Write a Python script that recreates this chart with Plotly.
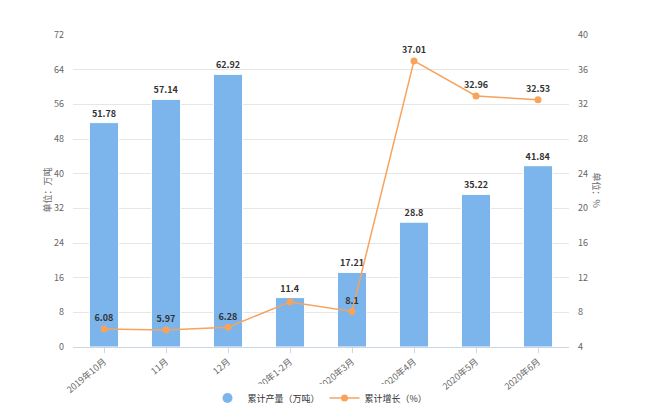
import plotly.graph_objects as go

categories = ["2019年10月", "11月", "12月", "2020年1-2月", "2020年3月", "2020年4月", "2020年5月", "2020年6月"]
output_vals = [51.78, 57.14, 62.92, 11.4, 17.21, 28.8, 35.22, 41.84]
growth_vals = [6.08, 5.97, 6.28, 9.2, 8.1, 37.01, 32.96, 32.53]
growth_labels = ["6.08", "5.97", "6.28", "", "8.1", "37.01", "32.96", "32.53"]

FONT = "Noto Sans CJK SC"
BLUE = "#7cb5ec"
ORANGE = "#f7a35c"

# page body has an 8px margin, so the figure is offset by 8px
OFF = 8
W, H = 650 - OFF, 420 - OFF
L, T = 73 - OFF, 35 - OFF
R = W - (569 - OFF)
B = H - (347 - OFF)

fig = go.Figure()
fig.add_trace(go.Bar(
    x=categories, y=output_vals, name="累计产量（万吨）", showlegend=False,
    marker=dict(color=BLUE, line=dict(color="#ffffff", width=1)),
    text=[str(v) for v in output_vals], textposition="outside",
    textfont=dict(size=9, color="#333333", family=FONT, weight="bold"),
    cliponaxis=False, yaxis="y",
))
fig.add_trace(go.Scatter(
    x=[None], y=[None], mode="markers", name="累计产量（万吨）",
    marker=dict(color=BLUE, size=10, symbol="circle"), yaxis="y",
))
fig.add_trace(go.Scatter(
    x=categories, y=growth_vals, name="累计增长（%）", mode="lines+markers+text",
    line=dict(color=ORANGE, width=1.5),
    marker=dict(color=ORANGE, size=7),
    text=growth_labels, textposition="top center",
    textfont=dict(size=9, color="#333333", family=FONT, weight="bold"),
    cliponaxis=False, yaxis="y2",
))

fig.update_layout(
    width=W, height=H,
    margin=dict(l=L, r=R, t=T, b=B, autoexpand=False),
    paper_bgcolor="white", plot_bgcolor="white",
    font=dict(family=FONT, size=9, color="#666666"),
    bargap=0.53,
    showlegend=True,
    legend=dict(orientation="h", x=(320 - OFF) / W, xanchor="center", xref="container",
                y=1 - (398 - OFF) / H, yanchor="middle", yref="container",
                font=dict(size=9, color="#333333"), itemwidth=30),
    xaxis=dict(type="category", tickangle=-40, showgrid=False, automargin=False,
               showline=True, linecolor="#ccd6eb", linewidth=1,
               ticks="outside", tickcolor="#ccd6eb", ticklen=5,
               tickfont=dict(size=9, color="#666666")),
    yaxis=dict(range=[0, 72], dtick=8, showgrid=True, gridcolor="#e6e6e6",
               automargin=False, zeroline=False,
               tickfont=dict(size=9, color="#666666"), ticks="",
               ticklabelstandoff=8),
    yaxis2=dict(range=[4, 40], dtick=4, overlaying="y", side="right", showgrid=False,
                automargin=False, zeroline=False,
                tickfont=dict(size=9, color="#666666"),
                ticklabelstandoff=8),
)

pw = W - L - R
ph = H - T - B
def px_to_paper(px, py):
    return (px - OFF - L) / pw, (H - B - (py - OFF)) / ph

ax1, ay1 = px_to_paper(38, 190)
ax2, ay2 = px_to_paper(605, 190)
fig.add_annotation(text="单位：万吨", x=ax1, y=ay1, xref="paper", yref="paper",
                   showarrow=False, textangle=-90, font=dict(size=9, color="#666666"))
fig.add_annotation(text="单位：%", x=ax2, y=ay2, xref="paper", yref="paper",
                   showarrow=False, textangle=90, font=dict(size=9, color="#666666"))

fig.write_html("out.html")
